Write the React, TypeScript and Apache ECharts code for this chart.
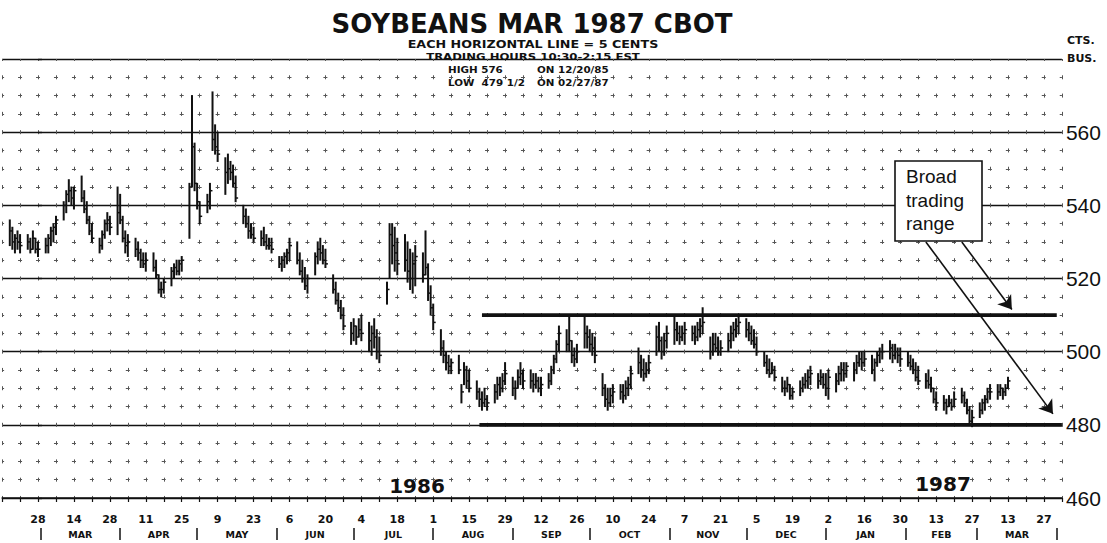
import React, { useEffect, useRef } from 'react';
import * as echarts from 'echarts';

// ---------- texts ----------
const titleText = 'SOYBEANS MAR 1987 CBOT';
const subtitleText = 'EACH HORIZONTAL LINE = 5 CENTS';
const hoursText = 'TRADING HOURS 10:30-2:15 EST';
const highNote = ['HIGH 576', 'ON 12/20/85'];
const lowNote = ['LOW  479 1/2', 'ON 02/27/87'];
const unitTop = 'CTS.';
const unitBottom = 'BUS.';
const yearLabels = ['1986', '1987'];
const boxText = ['Broad', 'trading', 'range'];

// ---------- axes (day 0 = Fri 28 Feb 1986) ----------
const X_MIN = -14;
const X_MAX = 399;
const dayTickLabels = ['28', '14', '28', '11', '25', '9', '23', '6', '20', '4', '18', '1', '15', '29', '12', '26', '10', '24', '7', '21', '5', '19', '2', '16', '30', '13', '27', '13', '27'];
const monthStartDays = [1, 32, 62, 93, 123, 154, 185, 215, 246, 276, 307, 338, 366, 397];
const monthNames = ['MAR', 'APR', 'MAY', 'JUN', 'JUL', 'AUG', 'SEP', 'OCT', 'NOV', 'DEC', 'JAN', 'FEB', 'MAR'];
const priceTicks = [460, 480, 500, 520, 540, 560, 580];

// ---------- daily bars: first bar Mon 17 Feb 1986, 5 trading days per week ----------
const FIRST_DAY = -11;
const lows = [
  529, 528, 527, 528, 527,
  528, 527, 528, 527, 526,
  527, 527, 529, 530, 532,
  536, 538, 541, 540, 539,
  541, 538, 535, 532, 530,
  527, 528, 531, 533, 532,
  532, 535, 530, 527, 526,
  526, 525, 523, 523, 522,
  522, 520, 516, 515, 516,
  518, 520, 521, 521, 522,
  531, 545, 544, 539, 535,
  538, 539, 555, 554, 552,
  543, 546, 547, 545, 541,
  535, 534, 531, 531, 530,
  529, 529, 528, 528, 527,
  523, 522, 523, 524, 525,
  524, 521, 519, 517, 516,
  521, 524, 525, 524, 523,
  516, 513, 511, 509, 506,
  502, 503, 502, 504, 503,
  500, 499, 501, 498, 497,
  513, 520, 524, 522, 521,
  522, 519, 517, 516, 518,
  519, 521, 514, 510, 506,
  499, 497, 495, 494, 494,
  494, 486, 491, 490, 489,
  487, 485, 484, 485, 484,
  486, 487, 488, 489, 491,
  488, 487, 490, 491, 490,
  490, 489, 490, 489, 488,
  490, 491, 494, 497, 500,
  500, 500, 497, 496, 497,
  501, 501, 500, 499, 497,
  488, 485, 484, 485, 486,
  487, 486, 487, 488, 490,
  494, 493, 492, 493, 494,
  499, 500, 498, 499, 501,
  502, 503, 502, 503, 502,
  503, 502, 503, 504, 505,
  498, 499, 500, 499, 499,
  500, 501, 503, 504, 505,
  504, 503, 502, 501, 499,
  496, 494, 493, 494, 492,
  489, 488, 489, 487, 487,
  488, 489, 490, 490, 491,
  490, 491, 490, 488, 487,
  489, 491, 492, 492, 493,
  492, 494, 496, 495, 496,
  494, 492, 496, 497, 498,
  498, 497, 498, 497, 496,
  496, 495, 494, 492, 491,
  490, 490, 489, 486, 484,
  484, 483, 485, 484, 485,
  486, 485, 483, 480, 479.5,
  482, 483, 484, 486, 487,
  487, 488, 487, 488, 490,
];
const highs = [
  536, 534, 532, 533, 532,
  532, 531, 533, 531, 530,
  531, 532, 534, 535, 537,
  541, 544, 547, 545, 545,
  548, 544, 541, 537, 535,
  531, 533, 536, 538, 537,
  545, 543, 537, 533, 532,
  531, 530, 528, 527, 527,
  527, 525, 521, 519, 520,
  523, 524, 525, 525, 526,
  546, 570, 557, 546, 541,
  543, 546, 571, 562, 560,
  553, 554, 552, 551, 548,
  540, 539, 537, 535, 534,
  533, 534, 532, 531, 531,
  526, 526, 527, 528, 531,
  530, 527, 525, 523, 521,
  527, 530, 531, 529, 528,
  521, 519, 516, 514, 512,
  508, 509, 507, 509, 510,
  508, 507, 509, 506, 504,
  519, 535, 535, 534, 531,
  532, 530, 528, 527, 529,
  527, 533, 524, 518, 513,
  506, 503, 500, 499, 498,
  499, 491, 497, 496, 495,
  492, 490, 489, 490, 488,
  491, 493, 493, 494, 497,
  493, 492, 495, 497, 495,
  495, 494, 494, 493, 493,
  494, 496, 499, 503, 507,
  506, 510, 503, 501, 502,
  510, 507, 506, 505, 504,
  494, 491, 490, 490, 491,
  491, 491, 492, 493, 496,
  501, 499, 498, 497, 499,
  507, 508, 504, 505, 507,
  510, 508, 507, 507, 508,
  507, 507, 508, 509, 512,
  504, 505, 505, 504, 503,
  505, 507, 508, 509, 510,
  509, 508, 507, 506, 504,
  500, 499, 498, 497, 496,
  493, 492, 493, 491, 490,
  492, 493, 494, 495, 496,
  494, 495, 494, 494, 495,
  494, 496, 497, 497, 497,
  497, 499, 500, 500, 500,
  499, 498, 500, 501, 502,
  503, 502, 502, 501, 501,
  500, 499, 498, 497, 496,
  494, 495, 493, 490, 489,
  488, 487, 488, 487, 489,
  490, 489, 487, 485, 484,
  486, 487, 488, 490, 491,
  491, 491, 490, 491, 493,
];
const closes = [
  533, 530, 531, 530, 529,
  530, 528, 531, 528, 528,
  529, 531, 533, 534, 536,
  540, 543, 544, 542, 544,
  542, 539, 536, 533, 531,
  529, 532, 535, 536, 534,
  538, 536, 531, 529, 530,
  528, 527, 525, 524, 525,
  523, 521, 517, 517, 519,
  522, 523, 522, 524, 525,
  545, 556, 546, 541, 537,
  541, 544, 558, 556, 554,
  549, 550, 549, 546, 542,
  537, 535, 533, 532, 531,
  531, 530, 529, 529, 528,
  524, 525, 526, 527, 529,
  525, 522, 520, 518, 520,
  526, 528, 527, 525, 524,
  517, 514, 512, 510, 507,
  505, 507, 504, 506, 505,
  503, 505, 504, 500, 499,
  517, 532, 529, 527, 524,
  525, 522, 520, 524, 526,
  521, 523, 516, 512, 508,
  501, 499, 497, 496, 497,
  495, 489, 495, 492, 490,
  489, 487, 486, 487, 486,
  489, 491, 490, 492, 494,
  490, 490, 493, 494, 492,
  492, 491, 492, 490, 491,
  492, 495, 498, 502, 505,
  502, 503, 499, 498, 500,
  505, 504, 502, 501, 499,
  490, 487, 486, 488, 489,
  489, 488, 490, 491, 494,
  497, 495, 494, 495, 497,
  504, 503, 500, 503, 505,
  506, 505, 504, 505, 506,
  505, 504, 506, 507, 508,
  500, 502, 501, 500, 501,
  503, 505, 506, 507, 508,
  506, 505, 503, 502, 500,
  497, 495, 494, 495, 493,
  490, 490, 491, 488, 489,
  490, 491, 492, 493, 494,
  492, 493, 491, 490, 493,
  492, 494, 495, 494, 496,
  495, 497, 498, 497, 498,
  495, 497, 499, 500, 500,
  501, 499, 500, 499, 498,
  497, 496, 495, 493, 492,
  492, 491, 490, 487, 486,
  486, 485, 486, 485, 487,
  488, 486, 484, 481, 482,
  484, 486, 487, 489, 489,
  489, 490, 489, 490, 492,
];

// ---------- trading range and arrows (data coordinates: [day, price]) ----------
const rangeTop = 510;
const rangeBottom = 480;
const rangeTopDays = [173, 397];
const rangeBottomDays = [172, 399];
const arrowLines = [
  [[346, 530], [395.5, 483]],
  [[360, 530], [379.5, 511.5]],
];

const INK = '#111';
const SANS = '"Liberation Sans", Arial, Helvetica, sans-serif';
const BOLD = '"DejaVu Sans", Verdana, sans-serif';

function tradingDay(i: number) {
  return FIRST_DAY + 7 * Math.floor(i / 5) + (i % 5);
}

export default function App() {
  const ref = useRef<HTMLDivElement>(null);

  useEffect(() => {
    if (!ref.current) return;
    const chart = echarts.init(ref.current, undefined, { renderer: 'svg' });

    const bars = lows.map((lo, i) => [tradingDay(i), lo, highs[i], closes[i]]);
    const monthMidDays = monthNames.map((_, i) => (monthStartDays[i] + monthStartDays[i + 1]) / 2);

    const smallText = (text: string, x: number, y: number, size: number, sx: number, align: string) => ({
      type: 'text',
      x,
      y,
      z: 100,
      scaleX: sx,
      style: { text, font: `bold ${size}px ${BOLD}`, fill: INK, align, verticalAlign: 'middle' },
    });

    const option: any = {
      animation: false,
      backgroundColor: '#fff',
      textStyle: { fontFamily: SANS },
      grid: {
        left: 2.1,
        right: 45.1,
        top: 59,
        bottom: 45,
        containLabel: false,
        outerBoundsMode: 'none',
      },
      xAxis: [
        {
          type: 'value',
          min: X_MIN,
          max: X_MAX,
          interval: 7,
          axisLine: { show: true, lineStyle: { color: INK, width: 1.5 } },
          axisTick: { show: true, length: 4, lineStyle: { color: INK, width: 1.2 } },
          axisLabel: {
            show: true,
            margin: 16,
            color: INK,
            fontFamily: BOLD,
            fontWeight: 'bold',
            fontSize: 11,
            showMinLabel: true,
            showMaxLabel: true,
            hideOverlap: false,
            formatter: (v: number) => {
              if (v < 0 || v % 14 !== 0) return '';
              const lab = dayTickLabels[v / 14];
              return lab === undefined ? '' : lab;
            },
          },
          splitLine: {
            show: true,
            lineStyle: { color: '#555', width: 1, type: [4, 14.29], dashOffset: 2 },
          },
        },
        {
          type: 'value',
          min: X_MIN,
          max: X_MAX,
          position: 'bottom',
          offset: 30,
          axisLine: { show: false },
          axisTick: {
            show: true,
            length: 12,
            customValues: monthStartDays,
            lineStyle: { color: INK, width: 1.5 },
          },
          axisLabel: {
            show: true,
            margin: 1,
            color: INK,
            fontFamily: BOLD,
            fontWeight: 'bold',
            fontSize: 9.5,
            customValues: monthMidDays,
            formatter: (v: number) => {
              const idx = monthMidDays.findIndex((m) => Math.abs(m - v) < 0.01);
              return idx >= 0 ? monthNames[idx] : '';
            },
          },
          splitLine: { show: false },
        },
      ],
      yAxis: {
        type: 'value',
        position: 'right',
        min: priceTicks[0],
        max: priceTicks[priceTicks.length - 1],
        interval: 20,
        axisLine: { show: false },
        axisTick: { show: true, length: 4, lineStyle: { color: INK, width: 1.4 } },
        axisLabel: {
          margin: 4,
          color: INK,
          fontSize: 21,
          fontFamily: SANS,
          formatter: (v: number) => (v === priceTicks[priceTicks.length - 1] ? '' : String(v)),
        },
        splitLine: { show: true, lineStyle: { color: INK, width: 1.4 } },
        minorTick: { show: false, splitNumber: 4 },
        minorSplitLine: {
          show: true,
          lineStyle: { color: '#555', width: 1, type: [4, 13.96], dashOffset: 2 },
        },
      },
      series: [
        {
          type: 'custom',
          xAxisIndex: 0,
          clip: true,
          encode: { x: 0, y: [1, 2, 3] },
          data: bars,
          renderItem: (params: any, api: any) => {
            const d = api.value(0);
            const pLo = api.coord([d, api.value(1)]);
            const pHi = api.coord([d, api.value(2)]);
            const pC = api.coord([d, api.value(3)]);
            return {
              type: 'group',
              children: [
                {
                  type: 'line',
                  shape: { x1: pLo[0], y1: pLo[1] + 0.5, x2: pHi[0], y2: pHi[1] - 0.5 },
                  style: { stroke: INK, lineWidth: 2 },
                },
                {
                  type: 'line',
                  shape: { x1: pC[0], y1: pC[1], x2: pC[0] + 2.5, y2: pC[1] },
                  style: { stroke: INK, lineWidth: 1.5 },
                },
              ],
            };
          },
        },
        {
          type: 'line',
          xAxisIndex: 0,
          symbol: 'none',
          silent: true,
          data: rangeTopDays.map((d) => [d, rangeTop]),
          lineStyle: { color: INK, width: 3.6 },
          markLine: {
            silent: true,
            symbol: ['none', 'arrow'],
            symbolSize: 13,
            label: { show: false },
            lineStyle: { color: INK, width: 1.6, type: 'solid' },
            data: arrowLines.map((a) => [{ coord: a[0] }, { coord: a[1] }]),
          },
        },
        {
          type: 'line',
          xAxisIndex: 0,
          symbol: 'none',
          silent: true,
          data: rangeBottomDays.map((d) => [d, rangeBottom]),
          lineStyle: { color: INK, width: 3.6 },
        },
      ],
      graphic: [
        {
          type: 'text',
          x: 532,
          y: 24,
          z: 100,
          style: { text: titleText, font: `bold 26px ${BOLD}`, fill: INK, align: 'center', verticalAlign: 'middle' },
        },
        smallText(subtitleText, 533, 45, 10, 1.27, 'center'),
        smallText(hoursText, 533, 57, 9, 1.3, 'center'),
        smallText(highNote[0], 448, 70, 9, 1.15, 'left'),
        smallText(highNote[1], 537, 70, 9, 1.15, 'left'),
        smallText(lowNote[0], 448, 83, 9, 1.15, 'left'),
        smallText(lowNote[1], 537, 83, 9, 1.15, 'left'),
        smallText(unitTop, 1067, 40, 11, 1, 'left'),
        smallText(unitBottom, 1067, 58, 11, 1, 'left'),
        {
          type: 'text',
          x: 417,
          y: 486,
          z: 100,
          style: { text: yearLabels[0], font: `bold 20px ${BOLD}`, fill: INK, align: 'center', verticalAlign: 'middle' },
        },
        {
          type: 'text',
          x: 943,
          y: 484,
          z: 100,
          style: { text: yearLabels[1], font: `bold 20px ${BOLD}`, fill: INK, align: 'center', verticalAlign: 'middle' },
        },
        {
          type: 'rect',
          z: 100,
          shape: { x: 895, y: 161, width: 87, height: 80 },
          style: { fill: '#fff', stroke: INK, lineWidth: 1.6 },
        },
        {
          type: 'text',
          x: 906,
          y: 165,
          z: 101,
          style: {
            text: boxText.join('\n'),
            font: `19px ${SANS}`,
            lineHeight: 23.5,
            fill: INK,
            align: 'left',
            verticalAlign: 'top',
          },
        },
      ],
    };

    chart.setOption(option);
    return () => chart.dispose();
  }, []);

  return <div ref={ref} style={{ position: 'fixed', left: 0, top: 0, width: 1107, height: 543 }} />;
}
